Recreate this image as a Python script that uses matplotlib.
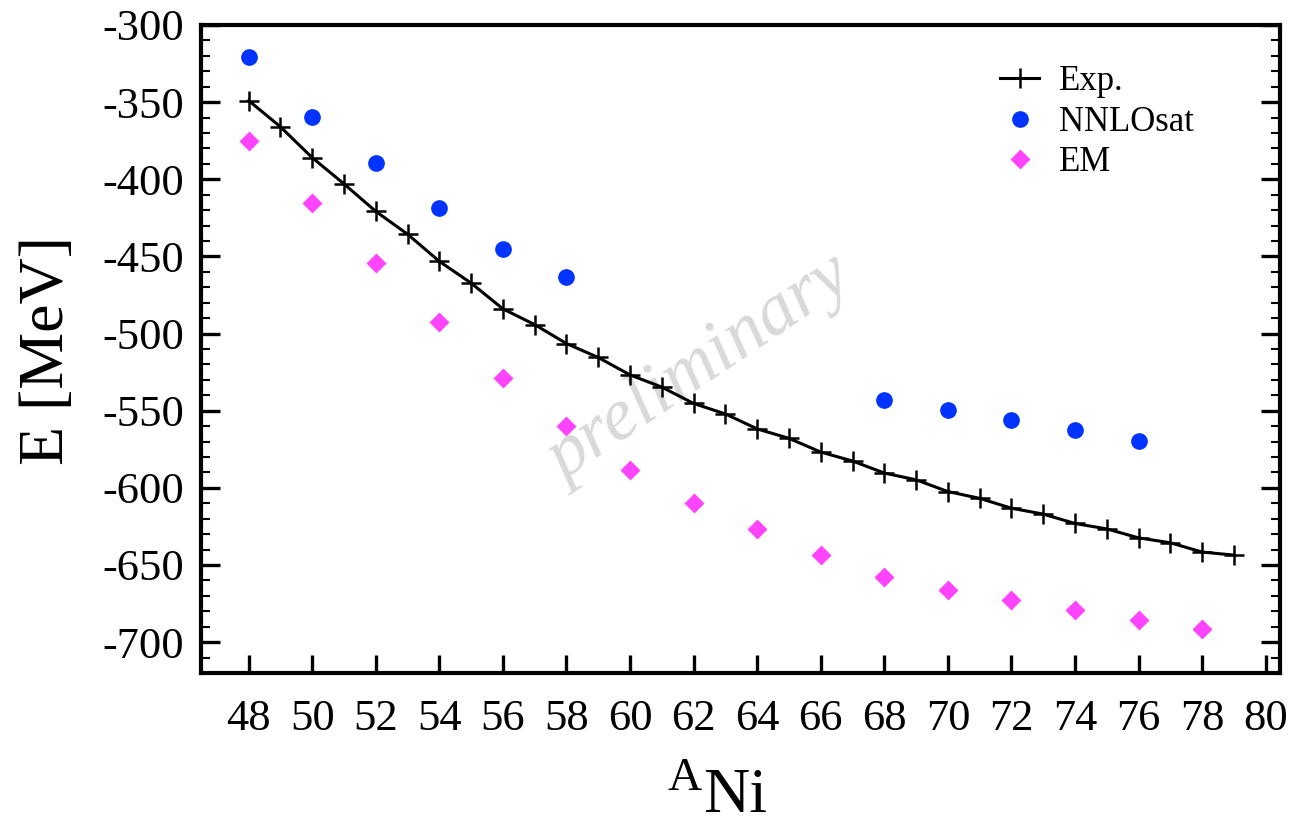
import matplotlib
matplotlib.use("Agg")
import matplotlib.pyplot as plt
from matplotlib.ticker import MultipleLocator

plt.rcParams["font.family"] = ["Liberation Serif", "DejaVu Serif"]
plt.rcParams["axes.unicode_minus"] = False

# binding energies of Ni isotopes
a_exp = list(range(48, 80))
e_exp = [-349.0, -366.0, -386.0, -403.0, -420.8, -435.6, -453.2, -467.3,
         -484.0, -494.2, -506.5, -515.5, -526.8, -534.7, -545.3, -552.1,
         -561.8, -567.9, -576.8, -582.6, -590.4, -594.8, -602.4, -606.8,
         -613.2, -617.0, -623.1, -626.6, -632.4, -635.6, -641.6, -643.6]

a_sat = [48, 50, 52, 54, 56, 58, 68, 70, 72, 74, 76]
e_sat = [-320.5, -359.8, -389.4, -418.7, -444.9, -463.2,
         -543.3, -549.8, -556.0, -562.8, -569.9]

a_em = [48, 50, 52, 54, 56, 58, 60, 62, 64, 66, 68, 70, 72, 74, 76, 78]
e_em = [-374.9, -415.1, -454.0, -492.4, -529.1, -560.2, -588.7, -610.0,
        -626.4, -643.3, -657.6, -666.1, -672.6, -679.4, -685.8, -691.4]

W, H = 1293, 827
fig = plt.figure(figsize=(W / 100, H / 100), dpi=100)
ax = fig.add_axes([201 / W, 154 / H, 1079 / W, 648 / H])

ax.plot(a_exp, e_exp, color="black", lw=2.2, marker="+", ms=14, mew=1.8,
        label="Exp.", zorder=3)
ax.plot(a_sat, e_sat, ls="none", marker="o", ms=11, color="#0033ff",
        label="NNLOsat", zorder=3)
ax.plot(a_em, e_em, ls="none", marker="D", ms=10, color="#ff44ff",
        mec="none", label="EM", zorder=3)

ax.text(62.2, -523.5, "preliminary", rotation=34, fontsize=54, style="italic",
        color="#d9d9d9", ha="center", va="center", zorder=1)

ax.set_xlim(46.5, 80.45)
ax.set_ylim(-720, -300)
ax.xaxis.set_major_locator(MultipleLocator(2))
ax.yaxis.set_major_locator(MultipleLocator(50))
ax.yaxis.set_minor_locator(MultipleLocator(10))

for s in ax.spines.values():
    s.set_linewidth(3)
ax.tick_params(axis="x", which="major", direction="in", length=13, width=2.4,
               labelsize=32, pad=19, top=False)
ax.tick_params(axis="y", which="major", direction="in", length=14, width=2.4,
               labelsize=32, pad=12, right=True)
ax.tick_params(axis="y", which="minor", direction="in", length=6.5, width=1.5,
               right=True)

ax.set_ylabel("E [MeV]", fontsize=46)
ax.yaxis.set_label_coords(-0.115, 0.497)

# x label: superscript mass number + element symbol
fig.text(702 / W, 1 - 790 / H, "A", fontsize=34, ha="right", va="baseline")
fig.text(703 / W, 1 - 812 / H, "Ni", fontsize=46, ha="left", va="baseline")

ax.legend(loc="upper left", bbox_to_anchor=(0.724, 0.965), frameon=False,
          fontsize=25, borderpad=0, handlelength=1.15, handletextpad=0.55,
          labelspacing=0.22, numpoints=1)

fig.savefig("out.png", dpi=100)
